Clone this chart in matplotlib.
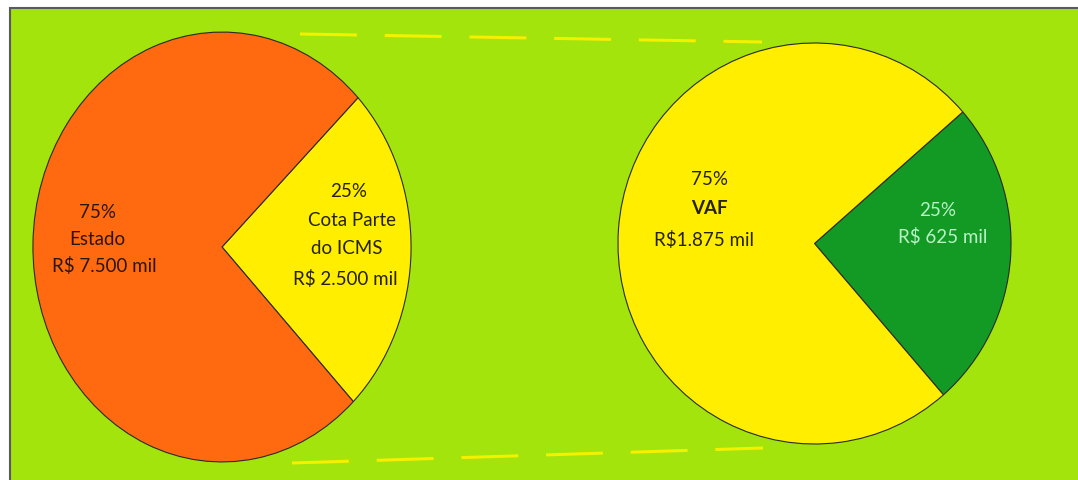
import matplotlib
matplotlib.use("Agg")
import matplotlib.pyplot as plt
from matplotlib.patches import Rectangle

plt.rcParams['font.family'] = ['Lato', 'DejaVu Sans']
plt.rcParams['lines.scale_dashes'] = False

# data
left_values = [25, 75]          # Cota Parte do ICMS, Estado
left_colors = ['#ffee00', '#ff6a10']
right_values = [25, 75]         # restante, VAF
right_colors = ['#139a24', '#ffee00']

left_labels = [
    (['75%', 'Estado', 'R$ 7.500 mil'], [(97, 213), (97, 240), (104, 266)], '#2b1606', ['normal'] * 3),
    (['25%', 'Cota Parte', 'do ICMS', 'R$ 2.500 mil'], [(349, 192), (352, 221), (347, 249), (345, 279)], '#262200', ['normal'] * 4),
]
right_labels = [
    (['75%', 'VAF', 'R$1.875 mil'], [(709, 180), (709, 209), (704, 240)], '#262200', ['normal', 'bold', 'normal']),
    (['25%', 'R$ 625 mil'], [(938, 211), (943, 237)], '#b8f2c6', ['normal'] * 2),
]

# dashed connectors (pixel coords)
top_line_x = [300, 762]
top_line_y = [35, 43]
bottom_line_x = [292, 763]
bottom_line_y = [464, 449]

W, H = 1078, 481
fig = plt.figure(figsize=(W / 100, H / 100), dpi=100)
fig.patch.set_facecolor('white')

bg = fig.add_axes([0, 0, 1, 1])
bg.set_xlim(0, W)
bg.set_ylim(H, 0)
bg.axis('off')
bg.add_patch(Rectangle((10, 9), W, H, facecolor='#a2e40c', edgecolor='#5a5a5a', lw=1.5))
bg.plot(top_line_x, top_line_y, color='#f4f000', lw=2.2, linestyle=(0, (41, 20)))
bg.plot(bottom_line_x, bottom_line_y, color='#f4f000', lw=2.2, linestyle=(0, (41, 20)))


def pie_axes(x0, y0, x1, y1):
    ax = fig.add_axes([x0 / W, 1 - y1 / H, (x1 - x0) / W, (y1 - y0) / H])
    ax.axis('off')
    return ax


ax1 = pie_axes(32, 32, 412, 464)
ax1.pie(left_values, colors=left_colors, startangle=-46, radius=1,
        wedgeprops=dict(edgecolor='#2a2a2a', linewidth=0.8))
ax1.set_aspect('auto')
ax1.set_xlim(-1.005, 1.005)
ax1.set_ylim(-1.005, 1.005)

ax2 = pie_axes(617, 43, 1012, 446)
ax2.pie(right_values, colors=right_colors, startangle=-49, radius=1,
        wedgeprops=dict(edgecolor='#2a2a2a', linewidth=0.8))
ax2.set_aspect('auto')
ax2.set_xlim(-1.005, 1.005)
ax2.set_ylim(-1.005, 1.005)

# labels drawn on top
top = fig.add_axes([0, 0, 1, 1])
top.set_xlim(0, W)
top.set_ylim(H, 0)
top.axis('off')
for lines, pos, col, weights in left_labels + right_labels:
    for t, (x, y), w in zip(lines, pos, weights):
        top.text(x, y, t, ha='center', va='center', fontsize=13.5, color=col, fontweight=w)

fig.savefig('out.png', dpi=100)
